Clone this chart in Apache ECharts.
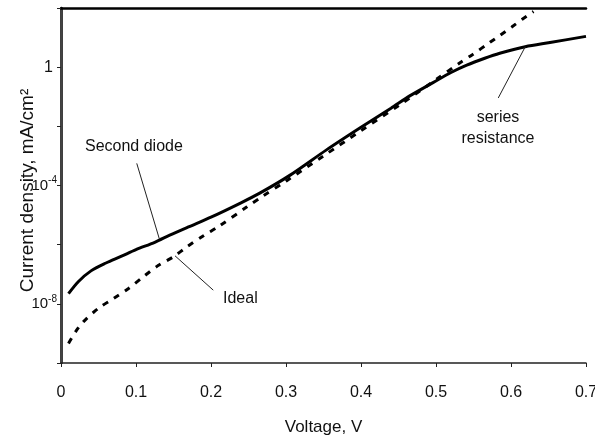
<!DOCTYPE html>
<html>
<head>
<meta charset="utf-8">
<script src="https://cdn.jsdelivr.net/npm/echarts@6/dist/echarts.min.js"></script>
<style>html,body{margin:0;padding:0;background:#fff;}#c{width:595px;height:437px;}</style>
</head>
<body>
<div id="c"></div>
<script>
// Voltage (V) and current density (mA/cm^2)
const idealV = [0.01, 0.02, 0.03, 0.05, 0.07, 0.09, 0.11, 0.13, 0.15, 0.168, 0.19, 0.21, 0.248, 0.268, 0.30, 0.35, 0.40, 0.45, 0.50, 0.532, 0.548, 0.572, 0.585, 0.601, 0.615, 0.63];
const idealJ = [4.6e-10, 1.2e-9, 2.5e-9, 7.1e-9, 1.5e-8, 3.3e-8, 8.3e-8, 2.0e-7, 3.9e-7, 8.5e-7, 2.0e-6, 4.1e-6, 1.9e-5, 4.2e-5, 1.4e-4, 1.0e-3, 7.1e-3, 5.0e-2, 0.38, 1.41, 2.6, 6.9, 11.7, 22.9, 41.7, 75.9];
const realV = [0.01, 0.023, 0.04, 0.06, 0.08, 0.10, 0.125, 0.145, 0.17, 0.20, 0.24, 0.265, 0.305, 0.354, 0.40, 0.44, 0.465, 0.496, 0.52, 0.541, 0.565, 0.585, 0.619, 0.652, 0.70];
const realJ = [2.2e-8, 5.6e-8, 1.3e-7, 2.4e-7, 4.0e-7, 6.8e-7, 1.2e-6, 2.1e-6, 4.0e-6, 8.5e-6, 2.6e-5, 5.5e-5, 2.2e-4, 1.6e-3, 9.3e-3, 4.1e-2, 0.107, 0.30, 0.66, 1.17, 2.0, 2.95, 4.9, 6.8, 11.0];
const xTicks = ['0', '0.1', '0.2', '0.3', '0.4', '0.5', '0.6', '0.7'];
const yLabelExps = [-8, -4, 0];
// annotation arrows: [from, to] in data space
const arrows = [
  [[0.101, 5.6e-4], [0.131, 1.6e-6]],
  [[0.203, 2.9e-8], [0.152, 4.2e-7]],
  [[0.583, 0.091], [0.619, 4.9]]
];
const notes = [
  {text: 'Second diode', x: 85, y: 147, align: 'left'},
  {text: 'Ideal', x: 223, y: 299, align: 'left'},
  {text: 'series', x: 498, y: 118, align: 'center'},
  {text: 'resistance', x: 498, y: 139, align: 'center'}
];

const FONT = '"Liberation Sans", Arial, sans-serif';
const chart = echarts.init(document.getElementById('c'), null, {renderer: 'canvas'});
const zip = (a, b) => a.map((v, i) => [v, b[i]]);

chart.setOption({
  animation: false,
  backgroundColor: '#fff',
  grid: {left: 61, right: 9, top: 8, bottom: 74, containLabel: false, outerBoundsMode: 'none'},
  xAxis: [{
    type: 'value', min: 0, max: 0.7, interval: 0.1,
    name: 'Voltage, V', nameLocation: 'middle', nameGap: 56, nameMoveOverlap: false,
    nameTextStyle: {fontFamily: FONT, fontSize: 17, color: '#111'},
    axisLine: {lineStyle: {color: '#222', width: 1.5}},
    axisTick: {show: true, inside: false, length: 4, lineStyle: {color: '#222'}},
    axisLabel: {fontFamily: FONT, fontSize: 16, color: '#111', margin: 22, hideOverlap: false,
      formatter: (v) => xTicks[Math.round(v * 10)] || ''},
    splitLine: {show: false}
  }, {
    type: 'value', position: 'top', min: 0, max: 0.7,
    axisLine: {show: true, lineStyle: {color: '#000', width: 2.5}},
    axisTick: {show: false}, axisLabel: {show: false}, splitLine: {show: false}
  }],
  yAxis: [{
    type: 'log', logBase: 10, min: 1e-10, max: 100, interval: 2,
    name: 'Current density, mA/cm²', nameLocation: 'middle', nameGap: 24, nameMoveOverlap: false,
    nameTextStyle: {fontFamily: FONT, fontSize: 19, color: '#111', padding: [0, 10, 0, 0]},
    axisLine: {show: true, lineStyle: {color: '#000', width: 2.5}},
    axisTick: {show: true, inside: false, length: 4, lineStyle: {color: '#222'}},
    axisLabel: {
      margin: 4,
      formatter: (v) => {
        const e = Math.round(Math.log10(v));
        if (yLabelExps.indexOf(e) < 0) return '';
        if (e === 0) return '{one|1}';
        return '{b|10}{s|' + e + '}';
      },
      rich: {
        one: {fontFamily: FONT, fontSize: 16, color: '#111', padding: [0, 4, 0, 0]},
        b: {fontFamily: FONT, fontSize: 15, color: '#111'},
        s: {fontFamily: FONT, fontSize: 10, color: '#111', verticalAlign: 'top', padding: [0, 0, 10, 0]}
      }
    },
    splitLine: {show: false}
  }, {
    type: 'log', position: 'right', min: 1e-10, max: 100,
    axisLine: {show: true, lineStyle: {color: '#444', width: 1}},
    axisTick: {show: false}, axisLabel: {show: false}, splitLine: {show: false}
  }],
  series: [{
    name: 'Ideal', type: 'line', data: zip(idealV, idealJ), smooth: 0.3,
    showSymbol: false,
    lineStyle: {color: '#000', width: 3, type: [6, 7]}
  }, {
    name: 'Second diode', type: 'line', data: zip(realV, realJ), smooth: 0.3,
    showSymbol: false,
    lineStyle: {color: '#000', width: 3},
    markLine: {
      silent: true, symbol: ['none', 'arrow'], symbolSize: [0, 9],
      label: {show: false},
      lineStyle: {color: '#222', width: 1, type: 'solid'},
      data: arrows.map(a => [{coord: a[0]}, {coord: a[1]}])
    }
  }],
  graphic: notes.map(n => ({
    type: 'text', x: n.x, y: n.y,
    style: {text: n.text, fontFamily: FONT, fontSize: 16, fill: '#111', align: n.align, verticalAlign: 'middle'}
  }))
});
</script>
</body>
</html>
